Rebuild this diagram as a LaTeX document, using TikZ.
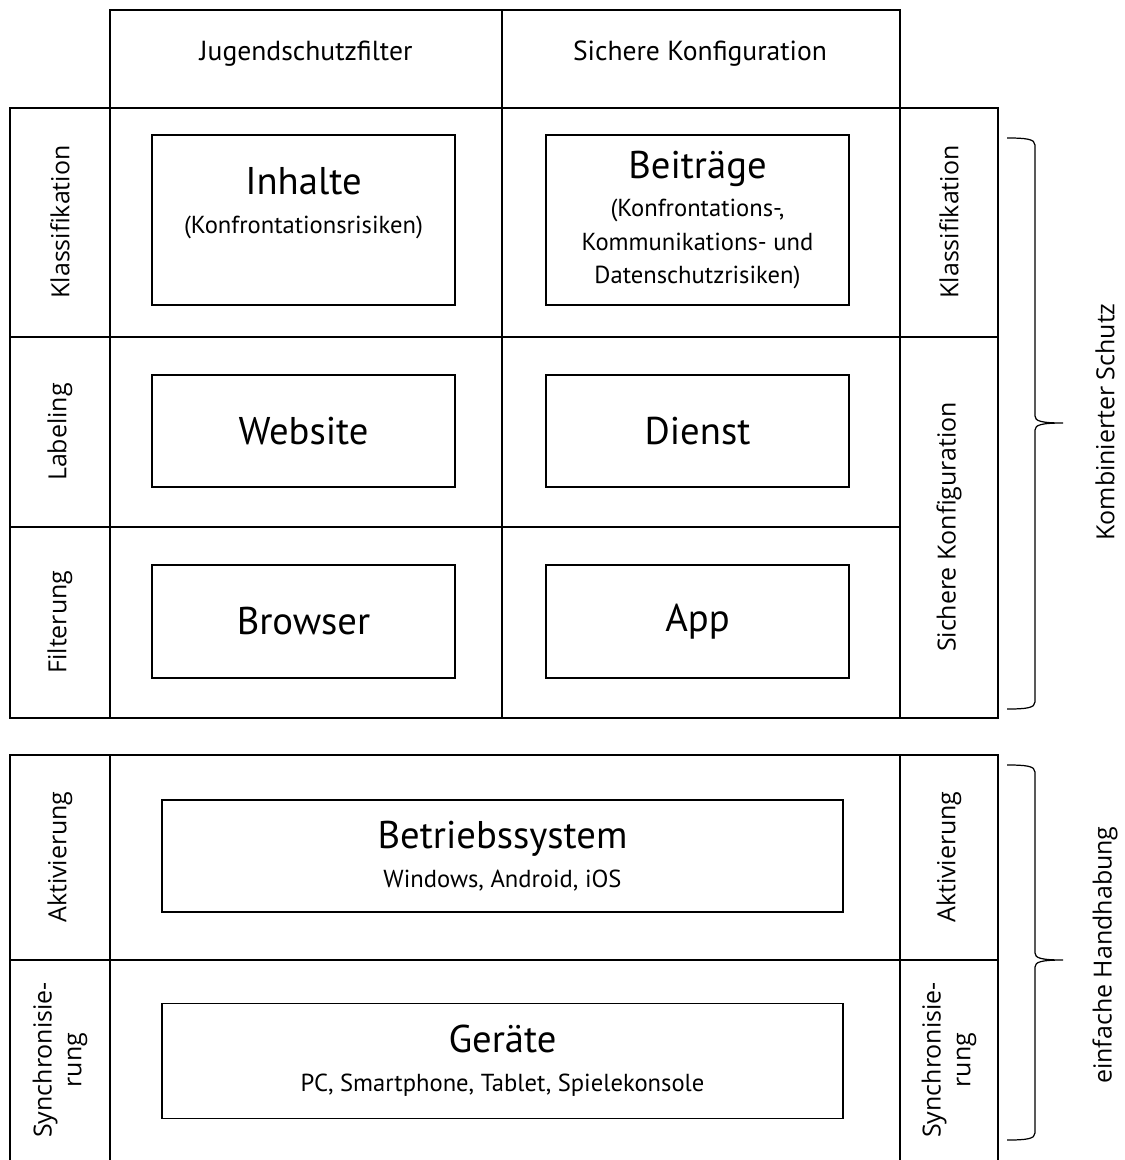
\documentclass[tikz,border=0pt]{standalone}
\usepackage{fontspec}
\setmainfont{PT Sans}
\newfontfamily\sidefont{Open Sans}

\begin{document}
\begin{tikzpicture}[x=0.02cm, y=-0.02cm,
    frame/.style={line width=1.2pt},
    box/.style={draw, line width=0.7pt, align=center, inner sep=0pt, minimum width=6.06cm, font=\fontsize{14}{19}\selectfont},
    wide/.style={box, minimum width=13.62cm},
    head/.style={font=\fontsize{15.7}{18}\selectfont},
    big/.style={font=\fontsize{22}{26}\selectfont},
    side/.style={rotate=90, align=center, font=\sidefont\fontsize{14.2}{17}\selectfont},
    curly/.style={line width=0.7pt}]
    \useasboundingbox (0,0) rectangle (1125,1160);

    % upper table
    \draw[frame] (110,108) -- (110,10) -- (900,10) -- (900,108);
    \draw[frame] (502,10) -- (502,108);
    \draw[frame] (10,108) rectangle (998,718);
    \draw[frame] (110,108) -- (110,718) (502,108) -- (502,718) (900,108) -- (900,718);
    \draw[frame] (10,337) -- (998,337) (10,527) -- (900,527);

    % lower table
    \draw[frame] (10,1160) -- (10,755) -- (998,755) -- (998,1160);
    \draw[frame] (110,755) -- (110,1160) (900,755) -- (900,1160) (10,960) -- (998,960);

    \node[head] (jsf) at (306,54) {Jugendschutzfilter};
    \node[head] (skf) at (700,54) {Sichere Konfiguration};

    \node[box, minimum height=3.4cm] (inhalte) at (303.5,220)
        {{\fontsize{22}{22}\selectfont Inhalte}\\[3pt] (Konfrontationsrisiken)\\[3pt] \mbox{}};
    \node[box, minimum height=3.4cm] (beitraege) at (697.5,220)
        {{\fontsize{22}{22}\selectfont Beiträge}\\[3pt] (Konfrontations-,\\ Kommunikations- und\\ Datenschutzrisiken)};
    \node[box, big, minimum height=2.24cm] (website) at (303.5,431) {Website};
    \node[box, big, minimum height=2.24cm] (dienst) at (697.5,431) {Dienst};
    \node[box, big, minimum height=2.26cm] (browser) at (303.5,621.5) {Browser};
    \node[box, big, minimum height=2.26cm] (app) at (697.5,621.5) {App};

    \node[wide, minimum height=2.24cm] (bs) at (502.5,856)
        {{\fontsize{22}{22}\selectfont Betriebssystem}\\[3pt] Windows, Android, iOS};
    \node[wide, minimum height=2.3cm] (geraete) at (502.5,1061)
        {{\fontsize{22}{22}\selectfont Geräte}\\[3pt] PC, Smartphone, Tablet, Spielekonsole};

    \node[side] (kl1) at (60,222) {Klassifikation};
    \node[side] (lab) at (60,432) {Labeling};
    \node[side] (fil) at (60,622) {Filterung};
    \node[side] (kl2) at (949,222) {Klassifikation};
    \node[side] (skf2) at (949,527) {Sichere Konfiguration};
    \node[side] (akt1) at (60,857) {Aktivierung};
    \node[side] (syn1) at (60,1060) {Synchronisie-\\rung};
    \node[side] (akt2) at (949,857) {Aktivierung};
    \node[side] (syn2) at (949,1060) {Synchronisie-\\rung};

    % braces
    \draw[curly] (1007,138) .. controls (1026,138) and (1035,139) .. (1035,145) -- (1035,416)
        .. controls (1035,421) and (1041,423) .. (1063,423) .. controls (1041,423) and (1035,425) .. (1035,430)
        -- (1035,702) .. controls (1035,708) and (1026,709) .. (1007,709);
    \draw[curly] (1007,765) .. controls (1026,765) and (1035,766) .. (1035,772) -- (1035,953)
        .. controls (1035,958) and (1041,960) .. (1063,960) .. controls (1041,960) and (1035,962) .. (1035,967)
        -- (1035,1133) .. controls (1035,1139) and (1026,1140) .. (1007,1140);
    \node[side] (kombi) at (1105,422) {Kombinierter Schutz};
    \node[side] (handh) at (1105,955) {einfache Handhabung};
\end{tikzpicture}
\end{document}
